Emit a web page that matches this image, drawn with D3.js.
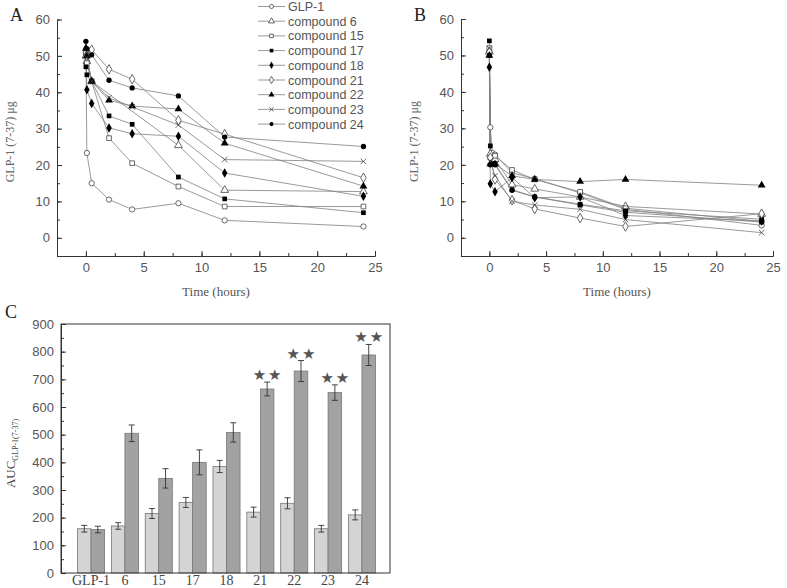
<!DOCTYPE html>
<html>
<head>
<meta charset="utf-8">
<script src="https://cdn.jsdelivr.net/npm/d3@7"></script>
<style>
  body { margin: 0; background: #fff; }
  svg { display: block; }
  .tick text { font-family: "Liberation Sans", Arial, sans-serif; font-size: 13px; fill: #555; }
  .axis path, .axis line { stroke: #333; }
</style>
</head>
<body>
<div id="chart"></div>
<script>
// time points (hours)
var times = [0, 0.083, 0.25, 0.5, 2, 4, 8, 12, 24];
var names = ["GLP-1", "compound 6", "compound 15", "compound 17", "compound 18",
             "compound 21", "compound 22", "compound 23", "compound 24"];
var shapes = ["circleOpen", "triangleOpen", "squareOpen", "square", "diamond",
              "diamondOpen", "triangle", "cross", "circle"];

// panel A values, one row per series (null = no point)
var seriesA = [
  [51, 23.3, null, 15, 10.5, 7.8, 9.5, 4.8, 3.1],
  [50, 48.5, null, 43, null, null, 25.4, 13.1, 12.7],
  [50.5, 48, null, 43, 27.4, 20.5, 14.1, 8.6, 8.6],
  [47, 44.8, null, 43, 33.5, 31.2, 16.7, 10.7, 6.9],
  [52, 40.7, null, 36.9, 30.2, 28.6, 27.9, 17.8, 11.4],
  [51, 50, null, 51.7, 46.3, 43.6, 32.3, 28.5, 16.5],
  [52, 50, null, 43, 37.8, 36.2, 35.4, 26, 14.2],
  [51, 49.5, null, 43, 38.5, 36, 31, 21.5, 21],
  [54, 52, null, 50.3, 43.3, 41.2, 39, 27.7, 25.1]
];
// panel B values
var seriesB = [
  [51, 30.3, 23.3, 22.8, 17.8, 16.2, 12.3, 7.8, 3.4],
  [51, 23, null, 21.5, 14.6, 13.4, 11.2, 8.6, 6.5],
  [52, 22, null, 22.5, 18.6, 16, 12.6, 8.1, 4.5],
  [54, 25.2, 20.3, 20.3, 13.2, 11.2, 9.2, 7.4, 5.1],
  [46.8, 14.8, null, 12.6, 16.5, 11, 11.2, 6.1, 4.6],
  [51, 22, null, 16, 10.3, 7.9, 5.4, 3.1, 6.6],
  [50, 20.2, null, 20.2, 17, 16, 15.4, 16, 14.4],
  [52, 21, null, 17, 10, 9, 7.8, 5, 1.4],
  [50, 20, null, 20, 13, 11.2, 9, 7, 4.3]
];

// panel C
var cats = ["GLP-1", "6", "15", "17", "18", "21", "22", "23", "24"];
var lightVals = [160, 170, 215, 255, 385, 220, 252, 160, 210];
var lightErr = [12, 12, 18, 18, 22, 18, 20, 12, 18];
var darkVals = [157, 505, 342, 400, 508, 665, 730, 652, 788];
var darkErr = [12, 30, 35, 45, 35, 25, 38, 28, 38];
var starred = [false, false, false, false, false, true, true, true, true];

var xTicks = [0, 5, 10, 15, 20, 25];
var yTicks = [0, 10, 20, 30, 40, 50, 60];
var cTicks = [0, 100, 200, 300, 400, 500, 600, 700, 800, 900];

var serif = '"Liberation Serif", "Times New Roman", serif';
var sans = '"Liberation Sans", Arial, sans-serif';

var svg = d3.select("#chart").append("svg")
  .attr("width", 787).attr("height", 588);
svg.append("rect").attr("width", 787).attr("height", 588).attr("fill", "#fff");

function marker(g, shape, x, y, s) {
  var sym = {
    circle: d3.symbolCircle, circleOpen: d3.symbolCircle,
    square: d3.symbolSquare, squareOpen: d3.symbolSquare,
    triangle: d3.symbolTriangle, triangleOpen: d3.symbolTriangle,
    diamond: d3.symbolDiamond, diamondOpen: d3.symbolDiamond,
    cross: d3.symbolTimes
  }[shape];
  var size = s * (shape.indexOf("diamond") === 0 ? 1.2 : shape.indexOf("triangle") === 0 ? 1.2 : 1);
  var open = shape.indexOf("Open") > 0 || shape === "cross";
  g.append("path")
    .attr("d", d3.symbol().type(sym).size(size)())
    .attr("transform", "translate(" + x + "," + y + ")")
    .attr("fill", shape === "cross" ? "none" : (open ? "#fff" : "#000"))
    .attr("stroke", open ? "#444" : "none")
    .attr("stroke-width", 0.8);
}

function linePanel(opt) {
  var g = svg.append("g");
  var x = d3.scaleLinear().domain([-2.5, 25]).range([opt.x0, opt.x1]);
  var y = d3.scaleLinear().domain([-5, 60]).range([opt.y1, opt.y0]);

  // minor ticks
  g.append("g").attr("class", "axis").attr("transform", "translate(0," + opt.y1 + ")")
    .call(d3.axisBottom(x).tickValues(d3.range(-2.5, 25, 2.5)).tickSize(-3).tickFormat("").tickSizeOuter(0));
  g.append("g").attr("class", "axis").attr("transform", "translate(" + opt.x0 + ",0)")
    .call(d3.axisLeft(y).tickValues(d3.range(-5, 61, 5)).tickSize(-3).tickFormat("").tickSizeOuter(0));
  // major ticks
  g.append("g").attr("class", "axis").attr("transform", "translate(0," + opt.y1 + ")")
    .call(d3.axisBottom(x).tickValues(xTicks).tickSize(-5).tickPadding(7).tickSizeOuter(0));
  g.append("g").attr("class", "axis").attr("transform", "translate(" + opt.x0 + ",0)")
    .call(d3.axisLeft(y).tickValues(yTicks).tickSize(-5).tickPadding(7).tickSizeOuter(0));

  g.append("text").attr("x", (opt.x0 + opt.x1) / 2).attr("y", opt.y1 + 40)
    .attr("text-anchor", "middle").attr("font-family", serif).attr("font-size", 13)
    .attr("fill", "#555").text("Time (hours)");
  g.append("text").attr("transform", "translate(" + (opt.x0 - 43) + "," + ((opt.y0 + opt.y1) / 2 + 4) + ") rotate(-90)")
    .attr("text-anchor", "middle").attr("font-family", serif).attr("font-size", 12)
    .attr("fill", "#666").text("GLP-1 (7-37) \u03bcg");
  g.append("text").attr("x", opt.x0 - 47).attr("y", 21)
    .attr("font-family", serif).attr("font-size", 18).attr("fill", "#222").text(opt.label);

  var line = d3.line().x(function(d) { return x(d[0]); }).y(function(d) { return y(d[1]); });
  var pts = opt.data.map(function(row) {
    return times.map(function(t, i) { return [t, row[i]]; })
      .filter(function(d) { return d[1] !== null; });
  });
  pts.forEach(function(p) {
    g.append("path").attr("d", line(p)).attr("fill", "none")
      .attr("stroke", "#808080").attr("stroke-width", 0.8);
  });
  pts.forEach(function(p, k) {
    p.forEach(function(d) { marker(g, shapes[k], x(d[0]), y(d[1]), 22); });
  });
  return g;
}

linePanel({ x0: 57, x1: 375, y0: 19.5, y1: 256, data: seriesA, label: "A" });
linePanel({ x0: 461, x1: 773, y0: 19, y1: 256, data: seriesB, label: "B" });

// legend of A
var leg = svg.append("g");
names.forEach(function(n, i) {
  var ly = 6.5 + i * 14.7;
  leg.append("line").attr("x1", 258).attr("x2", 285).attr("y1", ly).attr("y2", ly)
    .attr("stroke", "#808080").attr("stroke-width", 0.8);
  marker(leg, shapes[i], 271.5, ly, 13);
  leg.append("text").attr("x", 288).attr("y", ly + 4.5)
    .attr("font-family", sans).attr("font-size", 12.5).attr("fill", "#555").text(n);
});

// panel C
var gc = svg.append("g");
var cx0 = 61, cx1 = 390, cy0 = 324, cy1 = 573;
var yc = d3.scaleLinear().domain([0, 900]).range([cy1, cy0]);
var xc = d3.scaleBand().domain(cats).range([77.5, 375.5]).paddingInner(0.2);
var bw = xc.bandwidth() / 2;

gc.append("g").attr("class", "axis").attr("transform", "translate(" + cx0 + ",0)")
  .call(d3.axisLeft(yc).tickValues(d3.range(0, 901, 50)).tickSize(-3).tickFormat("").tickSizeOuter(0));
gc.append("g").attr("class", "axis").attr("transform", "translate(" + cx0 + ",0)")
  .call(d3.axisLeft(yc).tickValues(cTicks).tickSize(-5).tickPadding(7).tickSizeOuter(0));

function bars(vals, errs, off, fill) {
  cats.forEach(function(c, i) {
    var bx = xc(c) + off;
    gc.append("rect").attr("x", bx).attr("y", yc(vals[i]))
      .attr("width", bw).attr("height", yc(0) - yc(vals[i]))
      .attr("fill", fill).attr("stroke", "#777").attr("stroke-width", 0.8);
    var mx = bx + bw / 2;
    gc.append("path")
      .attr("d", "M" + mx + "," + yc(vals[i] - errs[i]) + "V" + yc(vals[i] + errs[i]) +
        "M" + (mx - 3) + "," + yc(vals[i] - errs[i]) + "h6" +
        "M" + (mx - 3) + "," + yc(vals[i] + errs[i]) + "h6")
      .attr("stroke", "#333").attr("stroke-width", 0.9).attr("fill", "none");
  });
}
bars(lightVals, lightErr, 0, "#d4d4d4");
bars(darkVals, darkErr, bw, "#a2a2a2");

cats.forEach(function(c, i) {
  if (!starred[i]) return;
  gc.append("text").attr("x", xc(c) + bw * 1.5 + 1).attr("y", yc(darkVals[i] + darkErr[i]) - 2)
    .attr("text-anchor", "middle").attr("font-family", '"DejaVu Sans", sans-serif')
    .attr("font-size", 15).attr("letter-spacing", 2).attr("fill", "#555").text("\u2605\u2605");
});

gc.append("rect").attr("x", cx0).attr("y", cy0).attr("width", cx1 - cx0).attr("height", cy1 - cy0)
  .attr("fill", "none").attr("stroke", "#333");

cats.forEach(function(c) {
  gc.append("text").attr("x", xc(c) + xc.bandwidth() / 2).attr("y", 585)
    .attr("text-anchor", "middle").attr("font-family", serif).attr("font-size", 14)
    .attr("fill", "#444").text(c);
});

var yt = gc.append("text").attr("transform", "translate(15," + ((cy0 + cy1) / 2 + 5) + ") rotate(-90)")
  .attr("text-anchor", "middle").attr("font-family", serif).attr("font-size", 13).attr("fill", "#444");
yt.append("tspan").text("AUC");
yt.append("tspan").attr("font-size", 8).attr("dy", 3).text("GLP-1(7-37)");

svg.append("text").attr("x", 5).attr("y", 318).attr("font-family", serif)
  .attr("font-size", 18).attr("fill", "#222").text("C");
</script>
</body>
</html>
